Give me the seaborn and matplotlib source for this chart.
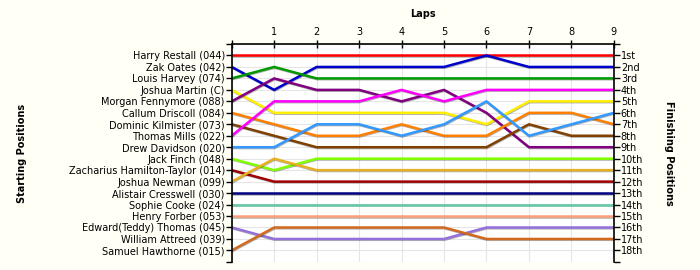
import matplotlib
matplotlib.use("Agg")
import matplotlib.pyplot as plt
import matplotlib.patheffects as pe
import seaborn as sns
import pandas as pd
import numpy as np

laps = [0, 1, 2, 3, 4, 5, 6, 7, 8, 9]

drivers = [
    "Harry Restall (044)", "Zak Oates (042)", "Louis Harvey (074)",
    "Joshua Martin (C)", "Morgan Fennymore (088)", "Callum Driscoll (084)",
    "Dominic Kilmister (073)", "Thomas Mills (022)", "Drew Davidson (020)",
    "Jack Finch (048)", "Zacharius Hamilton-Taylor (014)", "Joshua Newman (099)",
    "Alistair Cresswell (030)", "Sophie Cooke (024)", "Henry Forber (053)",
    "Edward(Teddy) Thomas (045)", "William Attreed (039)", "Samuel Hawthorne (015)",
]

finish_labels = ["1st", "2nd", "3rd", "4th", "5th", "6th", "7th", "8th", "9th",
                 "10th", "11th", "12th", "13th", "14th", "15th", "16th", "17th", "18th"]

pos_harry = [1, 1, 1, 1, 1, 1, 1, 1, 1, 1]
pos_zak = [2, 4, 2, 2, 2, 2, 1, 2, 2, 2]
pos_louis = [3, 2, 3, 3, 3, 3, 3, 3, 3, 3]
pos_jmartin = [4, 6, 6, 6, 6, 6, 7, 5, 5, 5]
pos_morgan = [5, 3, 4, 4, 5, 4, 6, 9, 9, 9]
pos_callum = [6, 7, 8, 8, 7, 8, 8, 6, 6, 7]
pos_dominic = [7, 8, 9, 9, 9, 9, 9, 7, 8, 8]
pos_thomas = [8, 5, 5, 5, 4, 5, 4, 4, 4, 4]
pos_drew = [9, 9, 7, 7, 8, 7, 5, 8, 7, 6]
pos_jack = [10, 11, 10, 10, 10, 10, 10, 10, 10, 10]
pos_zacharius = [11, 12, 12, 12, 12, 12, 12, 12, 12, 12]
pos_jnewman = [12, 10, 11, 11, 11, 11, 11, 11, 11, 11]
pos_alistair = [13, 13, 13, 13, 13, 13, 13, 13, 13, 13]
pos_sophie = [14, 14, 14, 14, 14, 14, 14, 14, 14, 14]
pos_henry = [15, 15, 15, 15, 15, 15, 15, 15, 15, 15]
pos_edward = [16, 17, 17, 17, 17, 17, 16, 16, 16, 16]
pos_william = [np.nan] * 10
pos_samuel = [18, 16, 16, 16, 16, 16, 17, 17, 17, 17]

series = [pos_harry, pos_zak, pos_louis, pos_jmartin, pos_morgan, pos_callum,
          pos_dominic, pos_thomas, pos_drew, pos_jack, pos_zacharius, pos_jnewman,
          pos_alistair, pos_sophie, pos_henry, pos_edward, pos_william, pos_samuel]

colors = ["#FF0000", "#0000CC", "#009900", "#FFEE00", "#800080", "#FF8000",
          "#804000", "#FF00FF", "#3399FF", "#80FF00", "#A00000", "#E6B020",
          "#000080", "#66CDAA", "#FFA07A", "#9370DB", "#FFFFFF", "#D2691E"]

rows = []
for d, s in zip(drivers, series):
    for lap, p in zip(laps, s):
        rows.append({"driver": d, "lap": lap, "pos": p})
df = pd.DataFrame(rows).dropna()

sns.set_theme(style="white")
plt.rcParams["font.family"] = ["DejaVu Sans"]
plt.rcParams["text.color"] = "black"
plt.rcParams["axes.labelcolor"] = "black"
plt.rcParams["xtick.color"] = "black"
plt.rcParams["ytick.color"] = "black"

fig = plt.figure(figsize=(7, 2.7), dpi=100, facecolor="#FFFFF6")
ax = fig.add_axes([0.331, 0.03, 0.546, 0.807])
ax.set_facecolor("white")

pal = {d: c for d, c in zip(drivers, colors)}
sns.lineplot(data=df, x="lap", y="pos", hue="driver", palette=pal,
             hue_order=[d for d, s in zip(drivers, series) if not np.all(np.isnan(s))],
             legend=False, ax=ax, linewidth=1.8, estimator=None, sort=False,
             path_effects=[pe.SimpleLineShadow(offset=(0.4, -0.6), alpha=0.3, shadow_color="black"),
                           pe.Normal()])

ax.set_xlim(0, 9)
ax.set_ylim(19, 0)
ax.set_xticks(range(0, 10))
ax.set_xticklabels([""] + [str(i) for i in range(1, 10)], fontsize=7)
ax.xaxis.tick_top()
ax.xaxis.set_label_position("top")
ax.set_xlabel("Laps", fontsize=7, fontweight="bold", labelpad=7)
ax.tick_params(axis="x", direction="inout", length=6, width=1, pad=2, colors="black")

ax.set_yticks(range(0, 20))
ax.set_yticklabels([""] + drivers + [""], fontsize=7)
ax.tick_params(axis="y", direction="out", length=4, width=1, pad=1, colors="black")
ax.set_ylabel("Starting Positions", fontsize=7, fontweight="bold")
ax.yaxis.set_label_coords(-0.535, 0.5)

ax.set_axisbelow(True)
ax.grid(True, color="#E6E6E6", linewidth=0.8)
for side in ["left", "right", "top"]:
    ax.spines[side].set_color("black")
    ax.spines[side].set_linewidth(1.2)
ax.spines["bottom"].set_visible(False)

ax2 = ax.twinx()
ax2.set_ylim(19, 0)
ax2.set_yticks(range(0, 20))
ax2.set_yticklabels([""] + finish_labels + [""], fontsize=7)
ax2.tick_params(axis="y", direction="out", length=4, width=1, pad=1, colors="black")
ax2.set_ylabel("Finishing Positions", fontsize=7, fontweight="bold", rotation=270, va="bottom")
ax2.yaxis.set_label_coords(1.13, 0.5)
for side in ["left", "right", "top", "bottom"]:
    ax2.spines[side].set_visible(False)
ax2.grid(False)

fig.savefig("out.png", dpi=100, facecolor=fig.get_facecolor())
